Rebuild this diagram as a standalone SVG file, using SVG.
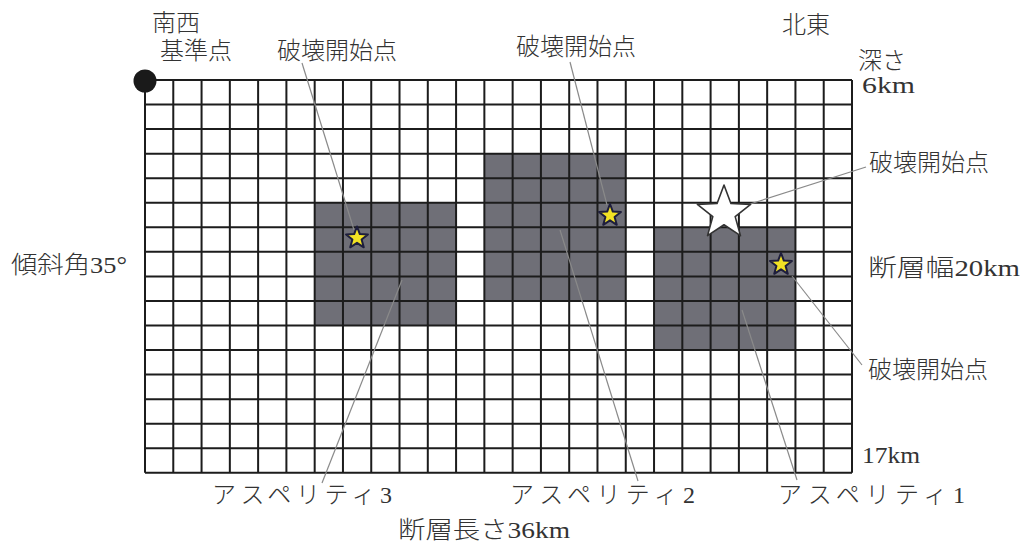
<svg xmlns="http://www.w3.org/2000/svg" width="1028" height="555" viewBox="0 0 1028 555">
<style>
.t{font-family:"Liberation Serif","Noto Sans CJK JP",serif;font-size:24px;fill:#333;font-weight:300}
.asp{fill:#6f6f77}
.grid{stroke:#1c1c1c;stroke-width:2;fill:none}
.lead{stroke:#8a8a8a;stroke-width:1.2;fill:none}
.ys{fill:#f2e224;stroke:#1e1e3c;stroke-linejoin:round}
.ws{fill:#fff;stroke:#333;stroke-linejoin:round}
</style>
<defs>
<path id="star" d="M0,-10 L2.469,-3.398 L9.511,-3.090 L3.995,1.298 L5.878,8.090 L0,4.2 L-5.878,8.090 L-3.995,1.298 L-9.511,-3.090 L-2.469,-3.398 Z"/>
</defs>
<rect width="1028" height="555" fill="#fff"/>
<g id="asperity3"><rect class="asp" x="314.68" y="202.75" width="141.4" height="122.75"/></g>
<g id="asperity2"><rect class="asp" x="484.36" y="153.65" width="141.4" height="147.3"/></g>
<g id="asperity1"><rect class="asp" x="654.04" y="227.3" width="141.4" height="122.75"/></g>
<g id="grid">
<path class="grid" d="M145,80V472.8M173.28,80V472.8M201.56,80V472.8M229.84,80V472.8M258.12,80V472.8M286.4,80V472.8M314.68,80V472.8M342.96,80V472.8M371.24,80V472.8M399.52,80V472.8M427.8,80V472.8M456.08,80V472.8M484.36,80V472.8M512.64,80V472.8M540.92,80V472.8M569.2,80V472.8M597.48,80V472.8M625.76,80V472.8M654.04,80V472.8M682.32,80V472.8M710.6,80V472.8M738.88,80V472.8M767.16,80V472.8M795.44,80V472.8M823.72,80V472.8M852,80V472.8
M145,80H852M145,104.55H852M145,129.1H852M145,153.65H852M145,178.2H852M145,202.75H852M145,227.3H852M145,251.85H852M145,276.4H852M145,300.95H852M145,325.5H852M145,350.05H852M145,374.6H852M145,399.15H852M145,423.7H852M145,448.25H852M145,472.8H852"/>
</g>
<g id="connectors">
<line class="lead" x1="302" y1="63" x2="354" y2="230"/>
<line class="lead" x1="322" y1="483" x2="402" y2="280"/>
<line class="lead" x1="570" y1="62" x2="607" y2="205"/>
<line class="lead" x1="560" y1="230" x2="638" y2="481"/>
<line class="lead" x1="866" y1="167" x2="750" y2="204"/>
<line class="lead" x1="792" y1="276" x2="862" y2="365"/>
<line class="lead" x1="742" y1="310" x2="797" y2="480"/>
</g>
<g id="star-origin"><use href="#star" class="ws" transform="translate(724,213) scale(2.8)" style="stroke-width:0.57"/></g>
<g id="star3"><use href="#star" class="ys" transform="translate(357,238) scale(1.15)" style="stroke-width:1.74"/></g>
<g id="star2"><use href="#star" class="ys" transform="translate(610,215.5) scale(1.15)" style="stroke-width:1.74"/></g>
<g id="star1"><use href="#star" class="ys" transform="translate(781,264.5) scale(1.15)" style="stroke-width:1.74"/></g>
<g id="reference-point"><circle cx="145" cy="81" r="11.5" fill="#1a1a1a"/></g>
<g id="labels">
<text class="t" x="152" y="31">南西</text>
<text class="t" x="160" y="59">基準点</text>
<text class="t" x="277" y="59">破壊開始点</text>
<text class="t" x="516" y="55">破壊開始点</text>
<text class="t" x="782" y="33">北東</text>
<text class="t" x="858" y="69">深さ</text>
<text class="t" x="862" y="93" textLength="53" lengthAdjust="spacingAndGlyphs">6km</text>
<text class="t" x="11" y="273" textLength="116" lengthAdjust="spacingAndGlyphs">傾斜角35°</text>
<text class="t" x="869" y="171">破壊開始点</text>
<text class="t" x="868" y="276" textLength="152" lengthAdjust="spacingAndGlyphs">断層幅20km</text>
<text class="t" x="868" y="378">破壊開始点</text>
<text class="t" x="862" y="463" textLength="58" lengthAdjust="spacingAndGlyphs">17km</text>
<text class="t" x="212" y="503" textLength="180" lengthAdjust="spacing">アスペリティ3</text>
<text class="t" x="510" y="503" textLength="185" lengthAdjust="spacing">アスペリティ2</text>
<text class="t" x="778" y="503" textLength="187" lengthAdjust="spacing">アスペリティ1</text>
<text class="t" x="398" y="538" textLength="172" lengthAdjust="spacingAndGlyphs">断層長さ36km</text>
</g>
</svg>
